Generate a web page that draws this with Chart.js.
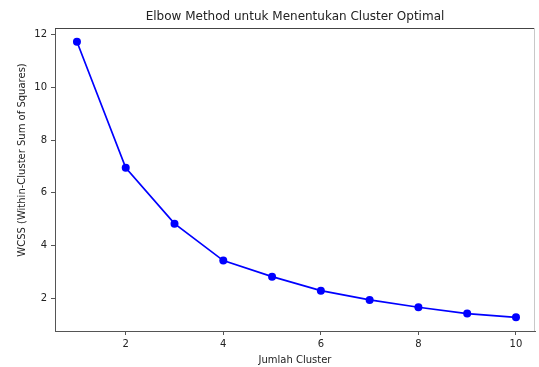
<!DOCTYPE html>
<html>
<head>
<meta charset="utf-8">
<script src="https://cdn.jsdelivr.net/npm/chart.js@4"></script>
<style>
  html, body { margin: 0; padding: 0; background: #fff; overflow: hidden; }
  #wrap { width: 539px; height: 367px; }
</style>
</head>
<body>
<div id="wrap"><canvas id="myChart" width="539" height="367"></canvas></div>
<script>
// data
var clusters = [1, 2, 3, 4, 5, 6, 7, 8, 9, 10];
var wcss = [11.73, 6.95, 4.83, 3.43, 2.82, 2.29, 1.94, 1.66, 1.42, 1.28];
var xTicks = [2, 4, 6, 8, 10];
var yTicks = [2, 4, 6, 8, 10, 12];

var titleText = "Elbow Method untuk Menentukan Cluster Optimal";
var xLabel = "Jumlah Cluster";
var yLabel = "WCSS (Within-Cluster Sum of Squares)";

var font = "'DejaVu Sans', sans-serif";

// spines on top/right and the three text labels, matplotlib style
var labelsPlugin = {
  id: "labels",
  afterDraw: function (chart) {
    var c = chart.ctx, a = chart.chartArea;
    c.save();
    c.lineWidth = 1;
    c.strokeStyle = "#444";
    c.beginPath();
    c.moveTo(a.left, a.top + 0.5);
    c.lineTo(a.right, a.top + 0.5);
    c.stroke();
    c.strokeStyle = "#c8c8c8";
    c.beginPath();
    c.moveTo(a.right - 0.5, a.top);
    c.lineTo(a.right - 0.5, a.bottom);
    c.stroke();

    c.fillStyle = "#222";
    c.textAlign = "center";
    c.textBaseline = "middle";
    c.font = "12px " + font;
    c.fillText(titleText, (a.left + a.right) / 2, 17);
    c.font = "10px " + font;
    c.fillText(xLabel, (a.left + a.right) / 2, 360);
    c.translate(22, 160);
    c.rotate(-Math.PI / 2);
    c.fillText(yLabel, 0, 0);
    c.restore();
  }
};

var ctx = document.getElementById("myChart").getContext("2d");
var myChart = new Chart(ctx, {
  type: "line",
  data: {
    datasets: [
      {
        data: clusters.map(function (x, i) { return { x: x, y: wcss[i] }; }),
        borderColor: "#0000ff",
        backgroundColor: "#0000ff",
        borderWidth: 1.7,
        pointRadius: 4,
        pointHoverRadius: 4,
        pointBorderWidth: 0,
        tension: 0,
      },
    ],
  },
  options: {
    responsive: false,
    animation: false,
    layout: { padding: { left: 0, right: 1, top: 28, bottom: 0 } },
    plugins: { legend: { display: false }, tooltip: { enabled: false } },
    scales: {
      x: {
        type: "linear",
        min: 0.55,
        max: 10.39,
        afterBuildTicks: function (s) { s.ticks = xTicks.map(function (v) { return { value: v }; }); },
        afterFit: function (s) { s.height = 36; s.paddingLeft = 0; s.paddingRight = 0; },
        grid: { drawOnChartArea: false, drawTicks: true, tickLength: 4, color: "#555" },
        border: { display: true, color: "#555", width: 1 },
        ticks: { color: "#222", font: { family: font, size: 10 }, padding: 3, maxRotation: 0 },
      },
      y: {
        min: 0.76,
        max: 12.25,
        afterBuildTicks: function (s) { s.ticks = yTicks.map(function (v) { return { value: v }; }); },
        afterFit: function (s) { s.width = 55; s.paddingTop = 0; s.paddingBottom = 0; },
        grid: { drawOnChartArea: false, drawTicks: true, tickLength: 4, color: "#555" },
        border: { display: true, color: "#555", width: 1 },
        ticks: { color: "#222", font: { family: font, size: 10 }, padding: 4 },
      },
    },
  },
  plugins: [labelsPlugin],
});
</script>
</body>
</html>
